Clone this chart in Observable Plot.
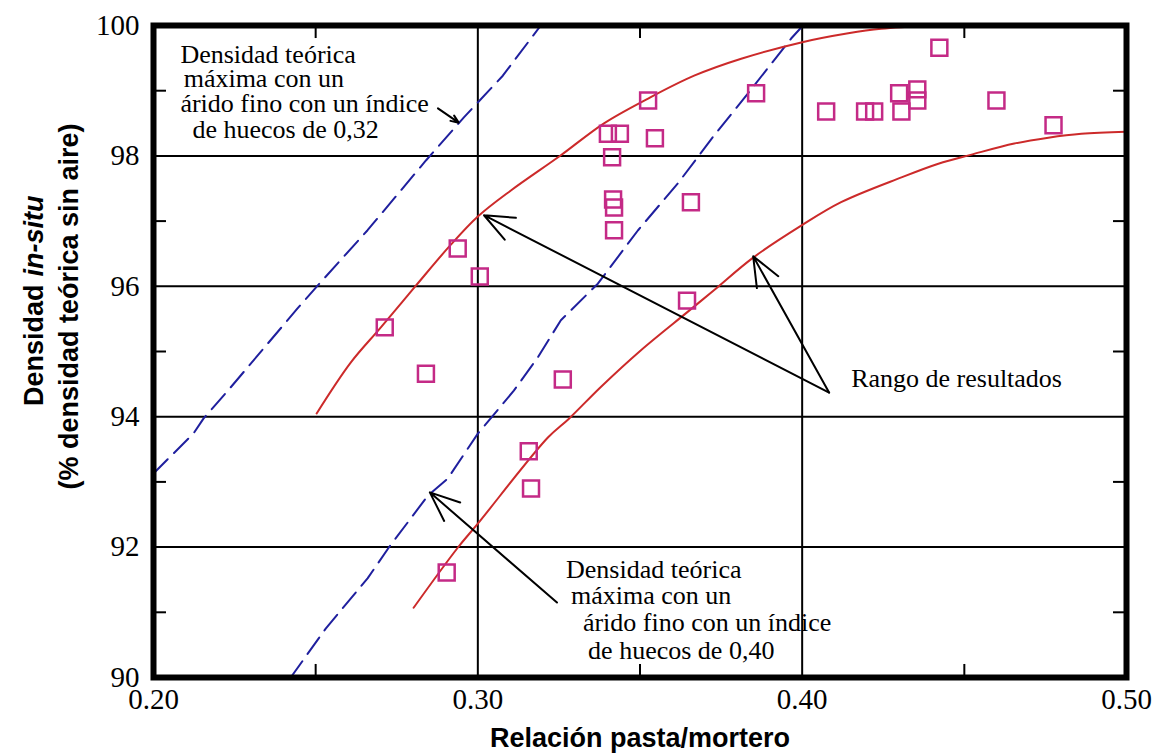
<!DOCTYPE html>
<html>
<head>
<meta charset="utf-8">
<script src="https://cdn.jsdelivr.net/npm/d3@7"></script>
<script src="https://cdn.jsdelivr.net/npm/@observablehq/plot@0.6"></script>
<style>
  html, body { margin: 0; padding: 0; background: white; }
</style>
</head>
<body>
<div id="chart"></div>
<script>
// ---- Data ----
const xTicks = [0.20, 0.30, 0.40, 0.50];
const yTicks = [90, 92, 94, 96, 98, 100];
const xGrid = [0.30, 0.40];
const yGrid = [92, 94, 96, 98];
const xMinor = [0.25, 0.35, 0.45];
const yMinor = [91, 93, 95, 97, 99];

// measured points (relación pasta/mortero, densidad in-situ %)
const pointsX = [0.2713, 0.2840, 0.2938, 0.3006, 0.2904, 0.3157, 0.3164, 0.3262, 0.3401, 0.3438,
                 0.3414, 0.3417, 0.3420, 0.3420, 0.3525, 0.3546, 0.3645, 0.3657, 0.3858, 0.4074,
                 0.4194, 0.4222, 0.4299, 0.4306, 0.4355, 0.4355, 0.4423, 0.4599, 0.4775];
const pointsY = [95.37, 94.66, 96.58, 96.15, 91.61, 93.47, 92.90, 94.57, 98.34, 98.34,
                 97.98, 97.33, 97.21, 96.86, 98.85, 98.27, 95.78, 97.29, 98.96, 98.68,
                 98.68, 98.68, 98.96, 98.68, 99.02, 98.85, 99.66, 98.85, 98.47];

// theoretical max density, void index 0.32 (blue dashed, left)
const blue032X = [0.2000, 0.2123, 0.2154, 0.2238, 0.2340, 0.2444, 0.2506, 0.2660, 0.2840, 0.2957, 0.3077, 0.3194];
const blue032Y = [93.13, 93.74, 93.97, 94.45, 95.05, 95.66, 96.01, 96.86, 97.93, 98.59, 99.23, 100.0];
// theoretical max density, void index 0.40 (blue dashed, right)
const blue040X = [0.2423, 0.2531, 0.2660, 0.2725, 0.2846, 0.2907, 0.3000, 0.3111, 0.3185, 0.3256, 0.3370, 0.3494, 0.3617, 0.3728, 0.3833, 0.3966, 0.3997];
const blue040Y = [90.00, 90.75, 91.52, 91.99, 92.79, 93.05, 93.74, 94.40, 94.91, 95.48, 96.04, 96.86, 97.58, 98.31, 98.96, 99.80, 99.97];
// range of results, upper bound (red)
const redUpperX = [0.2503, 0.2608, 0.2701, 0.2809, 0.2910, 0.3000, 0.3102, 0.3256, 0.3389, 0.3525, 0.3667, 0.3812, 0.3997, 0.4142, 0.4244, 0.4398];
const redUpperY = [94.05, 94.83, 95.37, 96.01, 96.60, 97.07, 97.47, 98.01, 98.50, 98.88, 99.23, 99.49, 99.74, 99.88, 99.95, 100.0];
// range of results, lower bound (red)
const redLowerX = [0.2802, 0.2938, 0.3000, 0.3216, 0.3281, 0.3380, 0.3503, 0.3645, 0.3728, 0.3849, 0.3997, 0.4120, 0.4306, 0.4420, 0.4522, 0.4654, 0.4759, 0.4861, 0.5000];
const redLowerY = [91.07, 91.99, 92.36, 93.68, 93.97, 94.46, 95.02, 95.60, 95.94, 96.44, 96.93, 97.29, 97.67, 97.88, 98.02, 98.19, 98.28, 98.34, 98.37];

// annotation texts
const noteTopLines = ["Densidad teórica", "máxima con un", "árido fino con un índice", "de huecos de 0,32"];
const noteTopX = [0.2083, 0.2093, 0.2083, 0.2120];
const noteTopY = [99.43, 99.06, 98.67, 98.28];
const noteBotLines = ["Densidad teórica", "máxima con un", "árido fino con un índice", "de huecos de 0,40"];
const noteBotX = [0.3272, 0.3287, 0.3324, 0.3340];
const noteBotY = [91.52, 91.13, 90.72, 90.29];
const rangeLabel = ["Rango de resultados"];
const rangeX = [0.4151];
const rangeY = [94.45];

// arrows (tail -> tip)
const arrowX1 = [0.2877, 0.4083, 0.4083, 0.3244];
const arrowY1 = [98.73, 94.37, 94.37, 91.15];
const arrowX2 = [0.2941, 0.3019, 0.3849, 0.2852];
const arrowY2 = [98.51, 97.09, 96.46, 92.84];

const xTitle = "Relación pasta/mortero";
const yTitleA = "Densidad";
const yTitleB = "in-situ";
const yTitle2 = "(% densidad teórica sin aire)";

// ---- Build tables ----
const toXY = (xs, ys) => xs.map((x, i) => ({x, y: ys[i]}));
const points = toXY(pointsX, pointsY);
const blue032 = toXY(blue032X, blue032Y);
const blue040 = toXY(blue040X, blue040Y);
const redUpper = toXY(redUpperX, redUpperY);
const redLower = toXY(redLowerX, redLowerY);
const noteTop = noteTopLines.map((t, i) => ({t, x: noteTopX[i], y: noteTopY[i]}));
const noteBot = noteBotLines.map((t, i) => ({t, x: noteBotX[i], y: noteBotY[i]}));
const rangeNote = rangeLabel.map((t, i) => ({t, x: rangeX[i], y: rangeY[i]}));
const arrows = arrowX1.map((x1, i) => ({x1, y1: arrowY1[i], x2: arrowX2[i], y2: arrowY2[i]}));

const RED = "#cc2a2a";
const BLUE = "#1f1f9e";
const MAG = "#c42a86";
const sans = "'Liberation Sans', Arial, sans-serif";
const serif = "'Liberation Serif', 'Times New Roman', serif";
const fmtX = d3.format(".2f");
const fmtY = d => String(d);

const plot = Plot.plot({
  width: 1157,
  height: 753,
  marginLeft: 153,
  marginRight: 31,
  marginTop: 25,
  marginBottom: 76,
  x: {domain: [0.2, 0.5], axis: null},
  y: {domain: [90, 100], axis: null},
  style: {fontFamily: serif, background: "white", color: "black"},
  marks: [
    // grid
    Plot.ruleX(xGrid, {stroke: "black", strokeWidth: 2}),
    Plot.ruleY(yGrid, {stroke: "black", strokeWidth: 2}),
    // inward minor ticks
    Plot.ruleX(xMinor, {y1: 90, y2: 90.2, stroke: "black", strokeWidth: 2}),
    Plot.ruleX(xMinor, {y1: 99.8, y2: 100, stroke: "black", strokeWidth: 2}),
    Plot.ruleY(yMinor, {x1: 0.2, x2: 0.204, stroke: "black", strokeWidth: 2}),
    Plot.ruleY(yMinor, {x1: 0.496, x2: 0.5, stroke: "black", strokeWidth: 2}),
    // curves
    Plot.line(blue032, {x: "x", y: "y", stroke: BLUE, strokeWidth: 2, strokeDasharray: "20,9", clip: true}),
    Plot.line(blue040, {x: "x", y: "y", stroke: BLUE, strokeWidth: 2, strokeDasharray: "20,9", clip: true}),
    Plot.line(redUpper, {x: "x", y: "y", stroke: RED, strokeWidth: 2, curve: "catmull-rom", clip: true}),
    Plot.line(redLower, {x: "x", y: "y", stroke: RED, strokeWidth: 2, curve: "catmull-rom", clip: true}),
    // points
    Plot.dot(points, {x: "x", y: "y", symbol: "square", r: 9, stroke: MAG, strokeWidth: 2.5, fill: "none"}),
    // arrows
    Plot.arrow(arrows, {x1: "x1", y1: "y1", x2: "x2", y2: "y2", stroke: "black", strokeWidth: 2, headLength: 24, headAngle: 45}),
    // annotations
    Plot.text(noteTop, {x: "x", y: "y", text: "t", textAnchor: "start", lineAnchor: "bottom", fontSize: 26, fontFamily: serif, fill: "black"}),
    Plot.text(noteBot, {x: "x", y: "y", text: "t", textAnchor: "start", lineAnchor: "bottom", fontSize: 26, fontFamily: serif, fill: "black"}),
    Plot.text(rangeNote, {x: "x", y: "y", text: "t", textAnchor: "start", lineAnchor: "bottom", fontSize: 26, fontFamily: serif, fill: "black"}),
    // frame
    Plot.frame({stroke: "black", strokeWidth: 6}),
    // tick labels (serif), placed via the scales
    Plot.text(xTicks, {x: d => d, frameAnchor: "bottom", dy: 11, lineAnchor: "top", text: fmtX, fontSize: 29, fontFamily: serif, fill: "black"}),
    Plot.text(yTicks, {y: d => d, frameAnchor: "left", dx: -14, textAnchor: "end", lineAnchor: "middle", text: fmtY, fontSize: 29, fontFamily: serif, fill: "black"}),
    // axis titles
    Plot.text([xTitle], {frameAnchor: "bottom", dy: 69, lineAnchor: "bottom", fontSize: 27, fontWeight: "bold", fontFamily: sans, fill: "black"}),
    Plot.text([yTitleA], {frameAnchor: "left", rotate: -90, dx: 42 - 153, dy: 284 - 351, textAnchor: "end", lineAnchor: "bottom", fontSize: 27, fontWeight: "bold", fontFamily: sans, fill: "black"}),
    Plot.text([yTitleB], {frameAnchor: "left", rotate: -90, dx: 42 - 153, dy: 276 - 351, textAnchor: "start", lineAnchor: "bottom", fontSize: 27, fontWeight: "bold", fontStyle: "italic", fontFamily: sans, fill: "black"}),
    Plot.text([yTitle2], {frameAnchor: "left", rotate: -90, dx: 77 - 153, dy: 306 - 351, textAnchor: "middle", lineAnchor: "bottom", fontSize: 27, fontWeight: "bold", fontFamily: sans, fill: "black"})
  ]
});
document.getElementById("chart").appendChild(plot);
</script>
</body>
</html>
